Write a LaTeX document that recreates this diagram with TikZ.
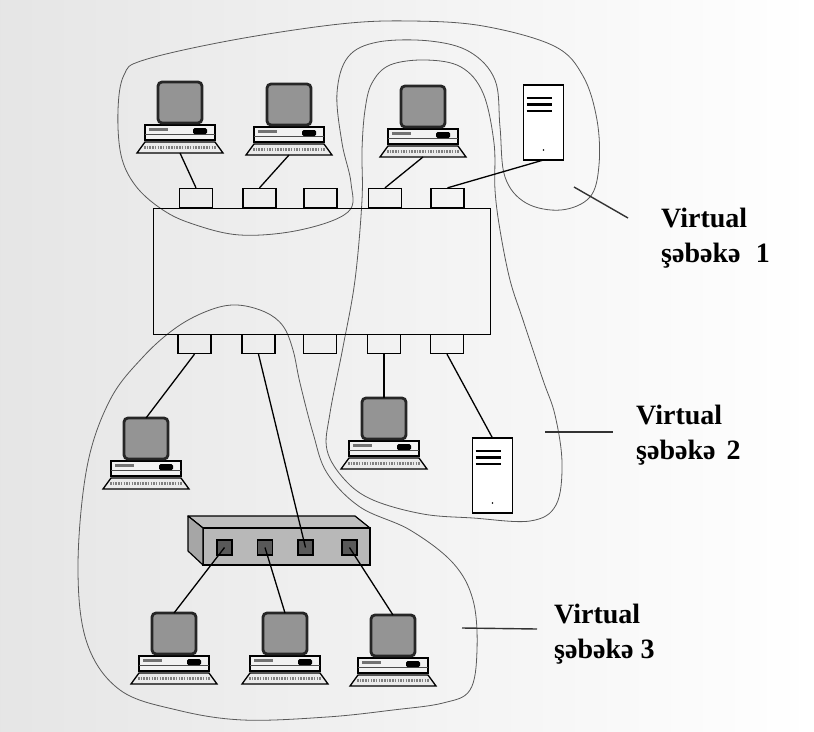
\documentclass[tikz,border=0pt]{standalone}
\usepackage{fontspec}
\setmainfont{Liberation Serif}
\begin{document}
\begin{tikzpicture}[x=1pt,y=-1pt,
  vlan/.style={draw=black!65, line width=0.8pt},
  wire/.style={draw=black, line width=1.3pt},
  port/.style={draw=black, line width=1.3pt, minimum width=33pt, minimum height=19pt, inner sep=0pt},
  hubport/.style={draw=black, fill=black!65, line width=1.3pt, minimum size=15pt, inner sep=0pt},
  lbl/.style={font=\fontsize{28}{35}\selectfont\bfseries, align=left, inner sep=0pt, anchor=north west},
  ptr/.style={draw=black!80, line width=1.4pt},
  pc/.pic={
    \coordinate (-top) at (0,0);
    \coordinate (-bot) at (0,71);
    % keyboard
    \filldraw[fill=black!8, draw=black, line width=1.3pt] (-35,60) -- (35,60) -- (43,71) -- (-43,71) -- cycle;
    \draw[black!50, line width=2.2pt, dash pattern=on 1.5pt off 1.2pt] (-36,65.5) -- (36,65.5);
    % system unit
    \filldraw[fill=black!5, draw=black, line width=1.3pt] (-35,43) rectangle (35,58);
    \draw[black!70, line width=0.6pt] (-35,52) -- (35,52);
    \fill[black!55] (-31,46) rectangle (-12,48.5);
    \fill[black, rounded corners=1.5pt] (13,46) rectangle (27,52);
    % monitor
    \filldraw[fill=black!42, draw=black!85, line width=2.8pt, rounded corners=4pt] (-22,0) rectangle (22,41);
  },
  srv/.pic={
    \coordinate (-top) at (0,0);
    \coordinate (-bot) at (0,75);
    \filldraw[fill=white, draw=black, line width=1.3pt] (-20,0) rectangle (20,75);
    \foreach \yy in {13,19.5,26} \draw[line width=2.2pt] (-17,\yy) -- (8,\yy);
    \fill (0,65) circle (0.8pt);
  }
]
% paper
\shade[left color=black!10, right color=white] (0,0) rectangle (814,731);
\useasboundingbox (0,0) rectangle (814,731);

% virtual network outlines
\draw[vlan] plot[smooth cycle, tension=0.6] coordinates {
  (118,110) (124,75) (144,60) (233,40) (340,24) (411,21) (483,26) (554,46)
  (583,76) (597,120) (599,165) (590,197) (561,210) (526,203) (505,177)
  (500,127) (495,80) (470,52) (430,41) (378,42) (348,57) (337,93) (342,143)
  (351,183) (348,212) (300,230) (240,235) (190,223) (160,208) (135,185) (121,155)};
\draw[vlan] plot[smooth cycle, tension=0.6] coordinates {
  (365,110) (372,83) (390,65) (426,60) (461,67) (483,93) (494,143) (495,190)
  (500,230) (510,280) (523,320) (543,380) (555,415) (562,463) (556,505)
  (530,521) (473,518) (423,514) (373,500) (345,480) (327,450) (330,413)
  (343,347) (355,280) (362,200) (362,150)};
\draw[vlan] plot[smooth cycle, tension=0.6] coordinates {
  (210,310) (237,305) (265,312) (283,326) (293,350) (300,383) (313,433)
  (327,473) (360,507) (410,530) (453,563) (473,600) (477,650) (470,690)
  (443,703) (393,710) (327,717) (243,720) (177,710) (120,690) (87,643)
  (78,567) (87,467) (110,400) (143,357) (177,327)};

% switch with its ports
\node[draw, line width=1.4pt, minimum width=337pt, minimum height=126pt, inner sep=0pt, anchor=north west] (sw) at (153,208) {};
\node[port] (t1) at (196,198) {};
\node[port] (t2) at (259.5,198) {};
\node[port] (t3) at (320.5,198) {};
\node[port] (t4) at (385,198) {};
\node[port] (t5) at (447.5,198) {};
\node[port] (b1) at (194.5,344) {};
\node[port] (b2) at (258.5,344) {};
\node[port] (b3) at (320,344) {};
\node[port] (b4) at (384,344) {};
\node[port] (b5) at (447,344) {};

% hub
\filldraw[fill=black!25, draw=black, line width=1.2pt, line join=round]
  (188,516) -- (355,516) -- (370,528) -- (203,528) -- cycle;
\filldraw[fill=black!28, draw=black, line width=1.2pt] (203,528) rectangle (370,565);
\filldraw[fill=black!35, draw=black, line width=1.2pt, line join=round]
  (188,516) -- (203,528) -- (203,565) -- (188,551) -- cycle;
\node[hubport] (h1) at (224.5,547.5) {};
\node[hubport] (h2) at (265,547.5) {};
\node[hubport] (h3) at (305.5,547.5) {};
\node[hubport] (h4) at (349.5,547.5) {};

% stations
\pic (pc1) at (180,82) {pc};
\pic (pc2) at (289,84) {pc};
\pic (pc3) at (423,86) {pc};
\pic (srv1) at (543.5,85) {srv};
\pic (pc4) at (146,418) {pc};
\pic (pc8) at (384,398) {pc};
\pic (srv2) at (492.5,438) {srv};
\pic (pc5) at (174,613) {pc};
\pic (pc6) at (285,613) {pc};
\pic (pc7) at (393,615) {pc};

% cabling
\draw[wire] (pc1-bot) -- (t1.north);
\draw[wire] (pc2-bot) -- (t2.north);
\draw[wire] (pc3-bot) -- (t4.north);
\draw[wire] (srv1-bot) -- (t5.north);
\draw[wire] (b1.south) -- (pc4-top);
\draw[wire] (b2.south) -- (h3.center);
\draw[wire] (b4.south) -- (pc8-top);
\draw[wire] (b5.south) -- (srv2-top);
\draw[wire] (h1.center) -- (pc5-top);
\draw[wire] (h2.center) -- (pc6-top);
\draw[wire] (h4.center) -- (pc7-top);

% labels
\coordinate (p1a) at (574,187); \coordinate (p1b) at (628,218);
\coordinate (p2a) at (545,432); \coordinate (p2b) at (613,432);
\coordinate (p3a) at (462,628); \coordinate (p3b) at (537,629);
\draw[ptr] (p1a) -- (p1b);
\draw[ptr] (p2a) -- (p2b);
\draw[ptr] (p3a) -- (p3b);
\node[lbl] (l1) at (661,208) {Virtual\\şəbəkə\hspace{0.3em} 1};
\node[lbl] (l2) at (636,405) {Virtual\\şəbəkə\hspace{0.15em} 2};
\node[lbl] (l3) at (554,604) {Virtual\\şəbəkə 3};
\end{tikzpicture}
\end{document}
